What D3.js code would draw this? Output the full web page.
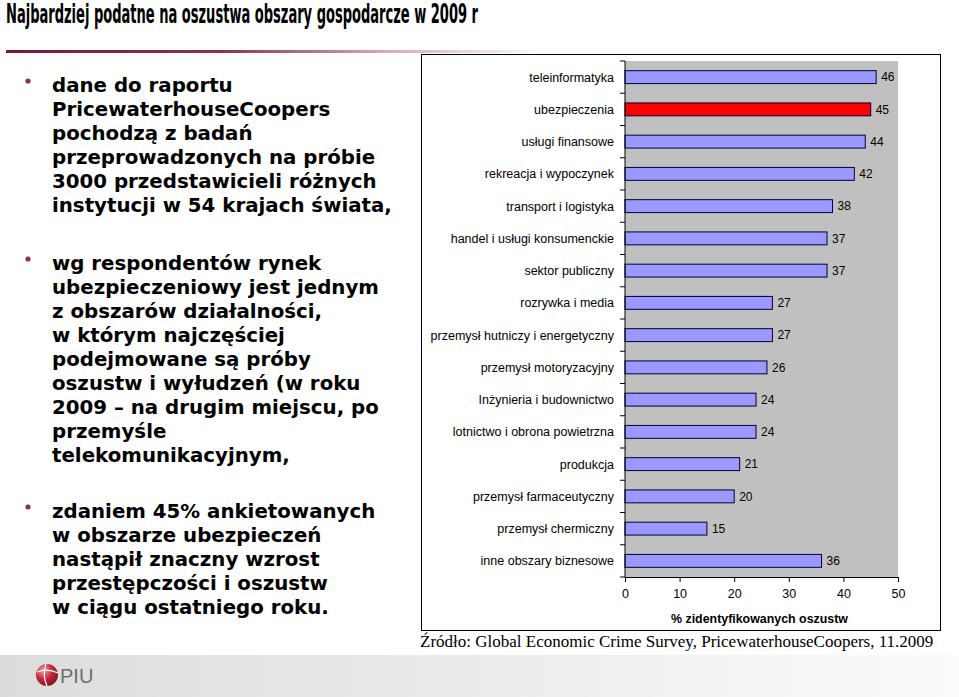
<!DOCTYPE html>
<html>
<head>
<meta charset="utf-8">
<script src="https://cdn.jsdelivr.net/npm/d3@7"></script>
<style>
  body { margin: 0; background: #fff; }
  svg { display: block; }
</style>
</head>
<body>
<svg id="slide" width="959" height="697"></svg>
<script>
// chart data
const categories = [
  "teleinformatyka", "ubezpieczenia", "usługi finansowe", "rekreacja i wypoczynek",
  "transport i logistyka", "handel i usługi konsumenckie", "sektor publiczny",
  "rozrywka i media", "przemysł hutniczy i energetyczny", "przemysł motoryzacyjny",
  "Inżynieria i budownictwo", "lotnictwo i obrona powietrzna", "produkcja",
  "przemysł farmaceutyczny", "przemysł chermiczny", "inne obszary biznesowe"
];
const values = [46, 45, 44, 42, 38, 37, 37, 27, 27, 26, 24, 24, 21, 20, 15, 36];
const highlighted = ["ubezpieczenia"];
const xTicks = [0, 10, 20, 30, 40, 50];

const titleText = "Najbardziej podatne na oszustwa obszary gospodarcze w 2009 r";
const axisTitle = "% zidentyfikowanych oszustw";
const sourceText = "Źródło: Global Economic Crime Survey, PricewaterhouseCoopers, 11.2009";

// left bullets, already broken into lines like on the slide
const bullets = [
  ["dane do raportu", "PricewaterhouseCoopers", "pochodzą z badań", "przeprowadzonych na próbie",
   "3000 przedstawicieli różnych", "instytucji w 54 krajach świata,"],
  ["wg respondentów rynek", "ubezpieczeniowy jest jednym", "z obszarów działalności,",
   "w którym najczęściej", "podejmowane są próby", "oszustw i wyłudzeń (w roku",
   "2009 – na drugim miejscu, po", "przemyśle", "telekomunikacyjnym,"],
  ["zdaniem 45% ankietowanych", "w obszarze ubezpieczeń", "nastąpił znaczny wzrost",
   "przestępczości i oszustw", "w ciągu ostatniego roku."]
];
const bulletTop = [92, 270, 518];

const svg = d3.select("#slide");
const defs = svg.append("defs");

// gradients
const lineGrad = defs.append("linearGradient").attr("id", "lineGrad")
  .attr("x1", "0").attr("x2", "1").attr("y1", "0").attr("y2", "0");
lineGrad.append("stop").attr("offset", "0").attr("stop-color", "#7a1836");
lineGrad.append("stop").attr("offset", "0.4").attr("stop-color", "#8e3050");
lineGrad.append("stop").attr("offset", "0.7").attr("stop-color", "#d9a7b6");
lineGrad.append("stop").attr("offset", "1").attr("stop-color", "#ffffff");

const footGrad = defs.append("linearGradient").attr("id", "footGrad")
  .attr("x1", "0").attr("x2", "1").attr("y1", "0").attr("y2", "0");
footGrad.append("stop").attr("offset", "0").attr("stop-color", "#dcdcdc");
footGrad.append("stop").attr("offset", "1").attr("stop-color", "#fbfbfb");

const globeGrad = defs.append("radialGradient").attr("id", "globeGrad")
  .attr("cx", "0.35").attr("cy", "0.3").attr("r", "0.8");
globeGrad.append("stop").attr("offset", "0").attr("stop-color", "#f4a0a8");
globeGrad.append("stop").attr("offset", "0.5").attr("stop-color", "#c0283a");
globeGrad.append("stop").attr("offset", "1").attr("stop-color", "#7a1020");

// title
svg.append("text")
  .attr("x", 6).attr("y", 23)
  .attr("font-family", "'Liberation Sans Narrow', 'DejaVu Sans Condensed', 'Liberation Sans', sans-serif")
  .attr("font-weight", "bold")
  .attr("font-size", 26)
  .attr("textLength", 472)
  .attr("lengthAdjust", "spacingAndGlyphs")
  .attr("fill", "#000")
  .text(titleText);

svg.append("rect").attr("x", 6).attr("y", 50).attr("width", 540).attr("height", 3)
  .attr("fill", "url(#lineGrad)");

// footer band + logo
svg.append("rect").attr("x", 0).attr("y", 655).attr("width", 959).attr("height", 42)
  .attr("fill", "url(#footGrad)");
svg.append("circle").attr("cx", 47).attr("cy", 675).attr("r", 11).attr("fill", "url(#globeGrad)");
svg.append("path").attr("d", "M37,672 Q47,668 58,673").attr("stroke", "#fff").attr("stroke-width", 1.2).attr("fill", "none");
svg.append("path").attr("d", "M46,664 Q42,675 47,686").attr("stroke", "#fff").attr("stroke-width", 1.2).attr("fill", "none");
svg.append("text").attr("x", 60).attr("y", 683)
  .attr("font-family", "'Liberation Sans Narrow', 'Liberation Sans', sans-serif")
  .attr("font-size", 20).attr("fill", "#6e6e6e")
  .text("PIU");

// left bullets
const leftText = svg.append("g")
  .attr("font-family", "'DejaVu Sans', Verdana, sans-serif")
  .attr("font-weight", "bold")
  .attr("font-size", 19.8)
  .attr("fill", "#000");

bullets.forEach((lines, i) => {
  leftText.append("circle")
    .attr("cx", 28).attr("cy", bulletTop[i] - 11).attr("r", 2.6)
    .attr("fill", "#9b2a4a");
  lines.forEach((line, j) => {
    leftText.append("text")
      .attr("x", 52).attr("y", bulletTop[i] + j * 24)
      .text(line);
  });
});

// chart frame
svg.append("rect").attr("x", 421.5).attr("y", 54.5).attr("width", 519).attr("height", 576)
  .attr("fill", "#fff").attr("stroke", "#000").attr("stroke-width", 1);

const plot = { left: 625, right: 898, top: 61, bottom: 577 };

const x = d3.scaleLinear().domain([0, 50]).range([plot.left, plot.right]);
const y = d3.scaleBand().domain(categories).range([plot.top, plot.bottom]).paddingInner(0.6).paddingOuter(0.3);

svg.append("rect")
  .attr("x", plot.left).attr("y", plot.top)
  .attr("width", plot.right - plot.left).attr("height", plot.bottom - plot.top)
  .attr("fill", "#c0c0c0");

// bars
svg.append("g").selectAll("rect")
  .data(categories)
  .join("rect")
  .attr("x", x(0))
  .attr("y", d => y(d))
  .attr("width", (d, i) => x(values[i]) - x(0))
  .attr("height", y.bandwidth())
  .attr("fill", d => highlighted.includes(d) ? "#ff0000" : "#9999ff")
  .attr("stroke", "#000033")
  .attr("stroke-width", 1);

// value labels
svg.append("g").selectAll("text")
  .data(categories)
  .join("text")
  .attr("x", (d, i) => x(values[i]) + 5)
  .attr("y", d => y(d) + y.bandwidth() / 2)
  .attr("dy", "0.35em")
  .attr("font-family", "'Liberation Sans', Arial, sans-serif")
  .attr("font-size", 12)
  .attr("fill", "#000")
  .text((d, i) => values[i]);

// y axis: labels and ticks between categories
const yAxisG = svg.append("g").attr("transform", `translate(${plot.left},0)`);
yAxisG.append("line").attr("x1", 0).attr("x2", 0).attr("y1", plot.top).attr("y2", plot.bottom)
  .attr("stroke", "#000");
d3.range(categories.length + 1).forEach(k => {
  const yy = plot.top + k * (plot.bottom - plot.top) / categories.length;
  yAxisG.append("line").attr("x1", -5).attr("x2", 0).attr("y1", yy).attr("y2", yy).attr("stroke", "#000");
});
yAxisG.selectAll("text.cat")
  .data(categories)
  .join("text")
  .attr("class", "cat")
  .attr("x", -11)
  .attr("y", d => y(d) + y.bandwidth() / 2)
  .attr("dy", "0.35em")
  .attr("text-anchor", "end")
  .attr("font-family", "'Liberation Sans', Arial, sans-serif")
  .attr("font-size", 12.5)
  .attr("fill", "#000")
  .text(d => d);

// x axis
const xAxis = d3.axisBottom(x).tickValues(xTicks).tickSize(5).tickPadding(7);
const xAxisG = svg.append("g").attr("transform", `translate(0,${plot.bottom})`).call(xAxis);
xAxisG.select(".domain").attr("stroke", "#000");
xAxisG.selectAll("line").attr("stroke", "#000");
xAxisG.selectAll("text")
  .attr("font-family", "'Liberation Sans', Arial, sans-serif")
  .attr("font-size", 12.5)
  .attr("fill", "#000");

svg.append("text")
  .attr("x", (plot.left + plot.right) / 2 - 2).attr("y", 623)
  .attr("text-anchor", "middle")
  .attr("font-family", "'Liberation Sans', Arial, sans-serif")
  .attr("font-weight", "bold")
  .attr("font-size", 12.4)
  .attr("fill", "#000")
  .text(axisTitle);

// source
svg.append("text")
  .attr("x", 420).attr("y", 647)
  .attr("font-family", "'Liberation Serif', 'Times New Roman', serif")
  .attr("font-size", 17)
  .attr("fill", "#000")
  .text(sourceText);
</script>
</body>
</html>
